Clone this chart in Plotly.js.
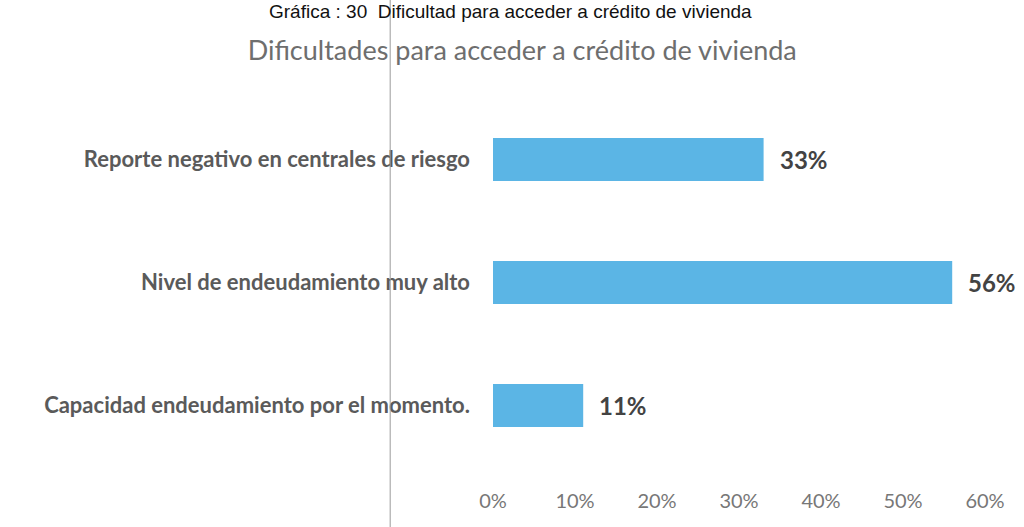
<!DOCTYPE html>
<html>
<head>
<meta charset="utf-8">
<script src="https://cdn.plot.ly/plotly-3.0.1.min.js"></script>
<style>html,body{margin:0;padding:0;background:#fff;}#chart{width:1024px;height:527px;}</style>
</head>
<body>
<div id="chart"></div>
<script>
const categories = [
  "Reporte negativo en centrales de riesgo",
  "Nivel de endeudamiento muy alto",
  "Capacidad endeudamiento por el momento."
];
const values = [0.33, 0.56, 0.11];
const valueLabels = ["33%", "56%", "11%"];
const tickVals = [0, 0.1, 0.2, 0.3, 0.4, 0.5, 0.6];
const tickText = ["0%", "10%", "20%", "30%", "40%", "50%", "60%"];

const font = "Lato, 'Open Sans', sans-serif";

const trace = {
  type: "bar",
  orientation: "h",
  x: values,
  y: categories,
  width: 0.35,
  marker: {color: "#5bb5e5"},
  hoverinfo: "skip"
};

const annotations = categories.map((c, i) => ({
  x: values[i], y: c, xref: "x", yref: "y",
  text: "<b>" + valueLabels[i] + "</b>",
  showarrow: false, xanchor: "left", xshift: 14,
  font: {family: font, size: 24, color: "#434343"}
}));
annotations.push({
  xref: "paper", yref: "paper", x: 0.035, y: 1, xanchor: "center", yanchor: "middle",
  yshift: 87,
  text: "Gráfica : 30  Dificultad para acceder a crédito de vivienda",
  showarrow: false,
  font: {family: "'Liberation Sans', Arial, sans-serif", size: 19, color: "#111"}
});

const layout = {
  width: 1024, height: 527,
  margin: {l: 493, r: 39, t: 98, b: 60},
  paper_bgcolor: "#ffffff", plot_bgcolor: "#ffffff",
  title: {
    text: "Dificultades para acceder a crédito de vivienda",
    x: 0.51, xanchor: "center", y: 0.905, yanchor: "middle",
    font: {family: font, size: 27, color: "#6e6e6e"}
  },
  xaxis: {
    range: [0, 0.6], tickvals: tickVals, ticktext: tickText,
    showgrid: false, zeroline: false, showline: false, ticks: "",
    ticklabelstandoff: 20,
    tickfont: {family: font, size: 20, color: "#777"}
  },
  yaxis: {
    autorange: "reversed", showgrid: false, zeroline: false, showline: false, ticks: "",
    ticklabelstandoff: 22,
    tickfont: {family: font, size: 22, color: "#5a5a5a", weight: "bold"}
  },
  showlegend: false,
  annotations: annotations,
  shapes: [{
    type: "line", xref: "paper", yref: "paper",
    x0: -0.209, x1: -0.209, y0: -0.2, y1: 1.3,
    line: {color: "#9a9a9a", width: 1}
  }]
};

Plotly.newPlot("chart", [trace], layout, {displayModeBar: false, staticPlot: true});
</script>
</body>
</html>
